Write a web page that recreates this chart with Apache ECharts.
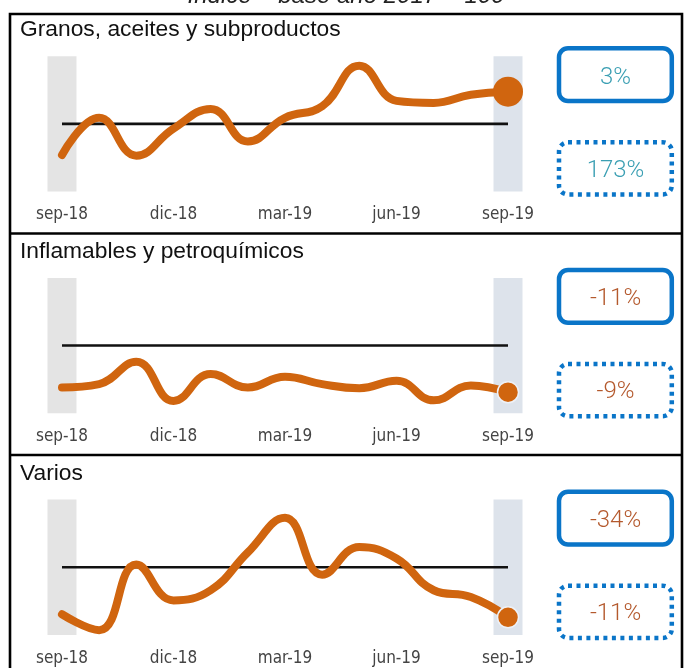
<!DOCTYPE html>
<html>
<head>
<meta charset="utf-8">
<style>
html,body{margin:0;padding:0;background:#fff;}
#chart{width:688px;height:668px;}
</style>
<script src="https://cdn.jsdelivr.net/npm/echarts@6/dist/echarts.min.js"></script>
</head>
<body>
<div id="chart"></div>
<script>
// ---- data ----
const months = ['sep-18','oct-18','nov-18','dic-18','ene-19','feb-19','mar-19','abr-19','may-19','jun-19','jul-19','ago-19','sep-19'];
const granos = [54, 109, 53, 93, 122, 74, 109, 126, 186, 134, 131, 143, 147.5];
const inflamables = [38, 43, 76, 18, 58, 38, 54, 43, 37, 48, 19, 41, 31];
const varios = [30.5, 7, 104, 51, 66, 122, 173, 89, 130, 113, 66, 56, 26];
const baseValue = 100;
const panelTitles = ['Granos, aceites y subproductos', 'Inflamables y petroquímicos', 'Varios'];
const changeMonth = ['3%', '-11%', '-34%'];
const changeYear = ['173%', '-9%', '-11%'];
const subtitle = 'Índice – base año 2017 = 100';

const seriesData = [granos, inflamables, varios];
const ORANGE = '#d0650f';
const BLUE = '#0a75c8';
const textColors = ['#3b9fb3', '#b4592d', '#b4592d'];
const COND = "'DejaVu Sans Condensed','DejaVu Sans',sans-serif";
const SANS = "'Liberation Sans',Arial,sans-serif";

const PANEL = 221.7;
const grids = [], xAxes = [], yAxes = [], series = [], graphics = [];

for (let p = 0; p < 3; p++) {
  const off = PANEL * p;
  grids.push({left: 43.4, width: 483.2, top: 56.2 + off, height: 135.3});
  xAxes.push({
    type: 'category', gridIndex: p, data: months, boundaryGap: true,
    axisLine: {show: false}, axisTick: {show: false}, splitLine: {show: false},
    axisLabel: {interval: 2, fontFamily: COND, fontSize: 17, color: '#444', margin: 15}
  });
  yAxes.push({type: 'value', gridIndex: p, min: 0, max: 200, show: false, splitLine: {show: false}});
  const vals = seriesData[p];
  const last = vals.length - 1;
  // highlight bands (first and last month)
  series.push({
    type: 'bar', xAxisIndex: p, yAxisIndex: p, barWidth: 29, silent: true, z: 1,
    data: vals.map((v, i) => i === 0 ? {value: 200, itemStyle: {color: '#e4e4e4'}}
                           : i === last ? {value: 200, itemStyle: {color: '#dde3eb'}} : '-')
  });
  // base line = 100
  series.push({
    type: 'line', xAxisIndex: p, yAxisIndex: p, symbol: 'none', z: 2, silent: true,
    data: vals.map(() => baseValue),
    lineStyle: {color: '#111', width: 2.6}
  });
  // index line
  series.push({
    type: 'line', xAxisIndex: p, yAxisIndex: p, symbol: 'none', z: 3, smooth: 0.45,
    data: vals, lineStyle: {color: ORANGE, width: 8, cap: 'round', join: 'round'}
  });
  // last-point marker
  series.push({
    type: 'scatter', xAxisIndex: p, yAxisIndex: p, z: 4,
    symbolSize: p === 0 ? 30 : 21,
    itemStyle: p === 0 ? {color: ORANGE, opacity: 1} : {color: ORANGE, opacity: 1, borderColor: '#eef1f6', borderWidth: 1.5},
    data: [[months[last], vals[last]]]
  });

  // panel title
  graphics.push({
    type: 'text', x: 20, y: 30 + off,
    style: {text: panelTitles[p], font: '22.8px ' + SANS, fill: '#111', textAlign: 'left', textVerticalAlign: 'middle'}
  });
  // solid box (monthly change)
  graphics.push({
    type: 'rect', shape: {x: 559, y: 48.3 + off, width: 112.8, height: 52.8, r: 9},
    style: {fill: 'none', stroke: BLUE, lineWidth: 4.5}
  });
  graphics.push({
    type: 'text', x: 615.5, y: 77.5 + off,
    style: {text: changeMonth[p], font: '300 24px Roboto', fill: textColors[p], textAlign: 'center', textVerticalAlign: 'middle'}
  });
  // dotted box (yearly change)
  graphics.push({
    type: 'rect', shape: {x: 559, y: 142.3 + off, width: 112.8, height: 52.2, r: 9},
    style: {fill: 'none', stroke: BLUE, lineWidth: 4.5, lineDash: [4, 4.5], lineCap: 'butt'}
  });
  graphics.push({
    type: 'text', x: 615.5, y: 170.5 + off,
    style: {text: changeYear[p], font: '300 24px Roboto', fill: textColors[p], textAlign: 'center', textVerticalAlign: 'middle'}
  });
}

// outer frame and dividers
graphics.push({type: 'rect', shape: {x: 10, y: 14, width: 672, height: 700}, style: {fill: 'none', stroke: '#000', lineWidth: 2.6}});
graphics.push({type: 'line', shape: {x1: 10, y1: 233.5, x2: 682, y2: 233.5}, style: {stroke: '#000', lineWidth: 2.6}});
graphics.push({type: 'line', shape: {x1: 10, y1: 455, x2: 682, y2: 455}, style: {stroke: '#000', lineWidth: 2.6}});
// subtitle (cut off at top)
graphics.push({
  type: 'text', x: 346, y: -4,
  style: {text: subtitle, font: 'italic 24px ' + SANS, fill: '#222', textAlign: 'center', textVerticalAlign: 'middle'}
});

const chart = echarts.init(document.getElementById('chart'), null, {renderer: 'canvas', width: 688, height: 668});
chart.setOption({
  animation: false,
  grid: grids, xAxis: xAxes, yAxis: yAxes, series: series,
  graphic: {elements: graphics}
});
</script>
</body>
</html>
